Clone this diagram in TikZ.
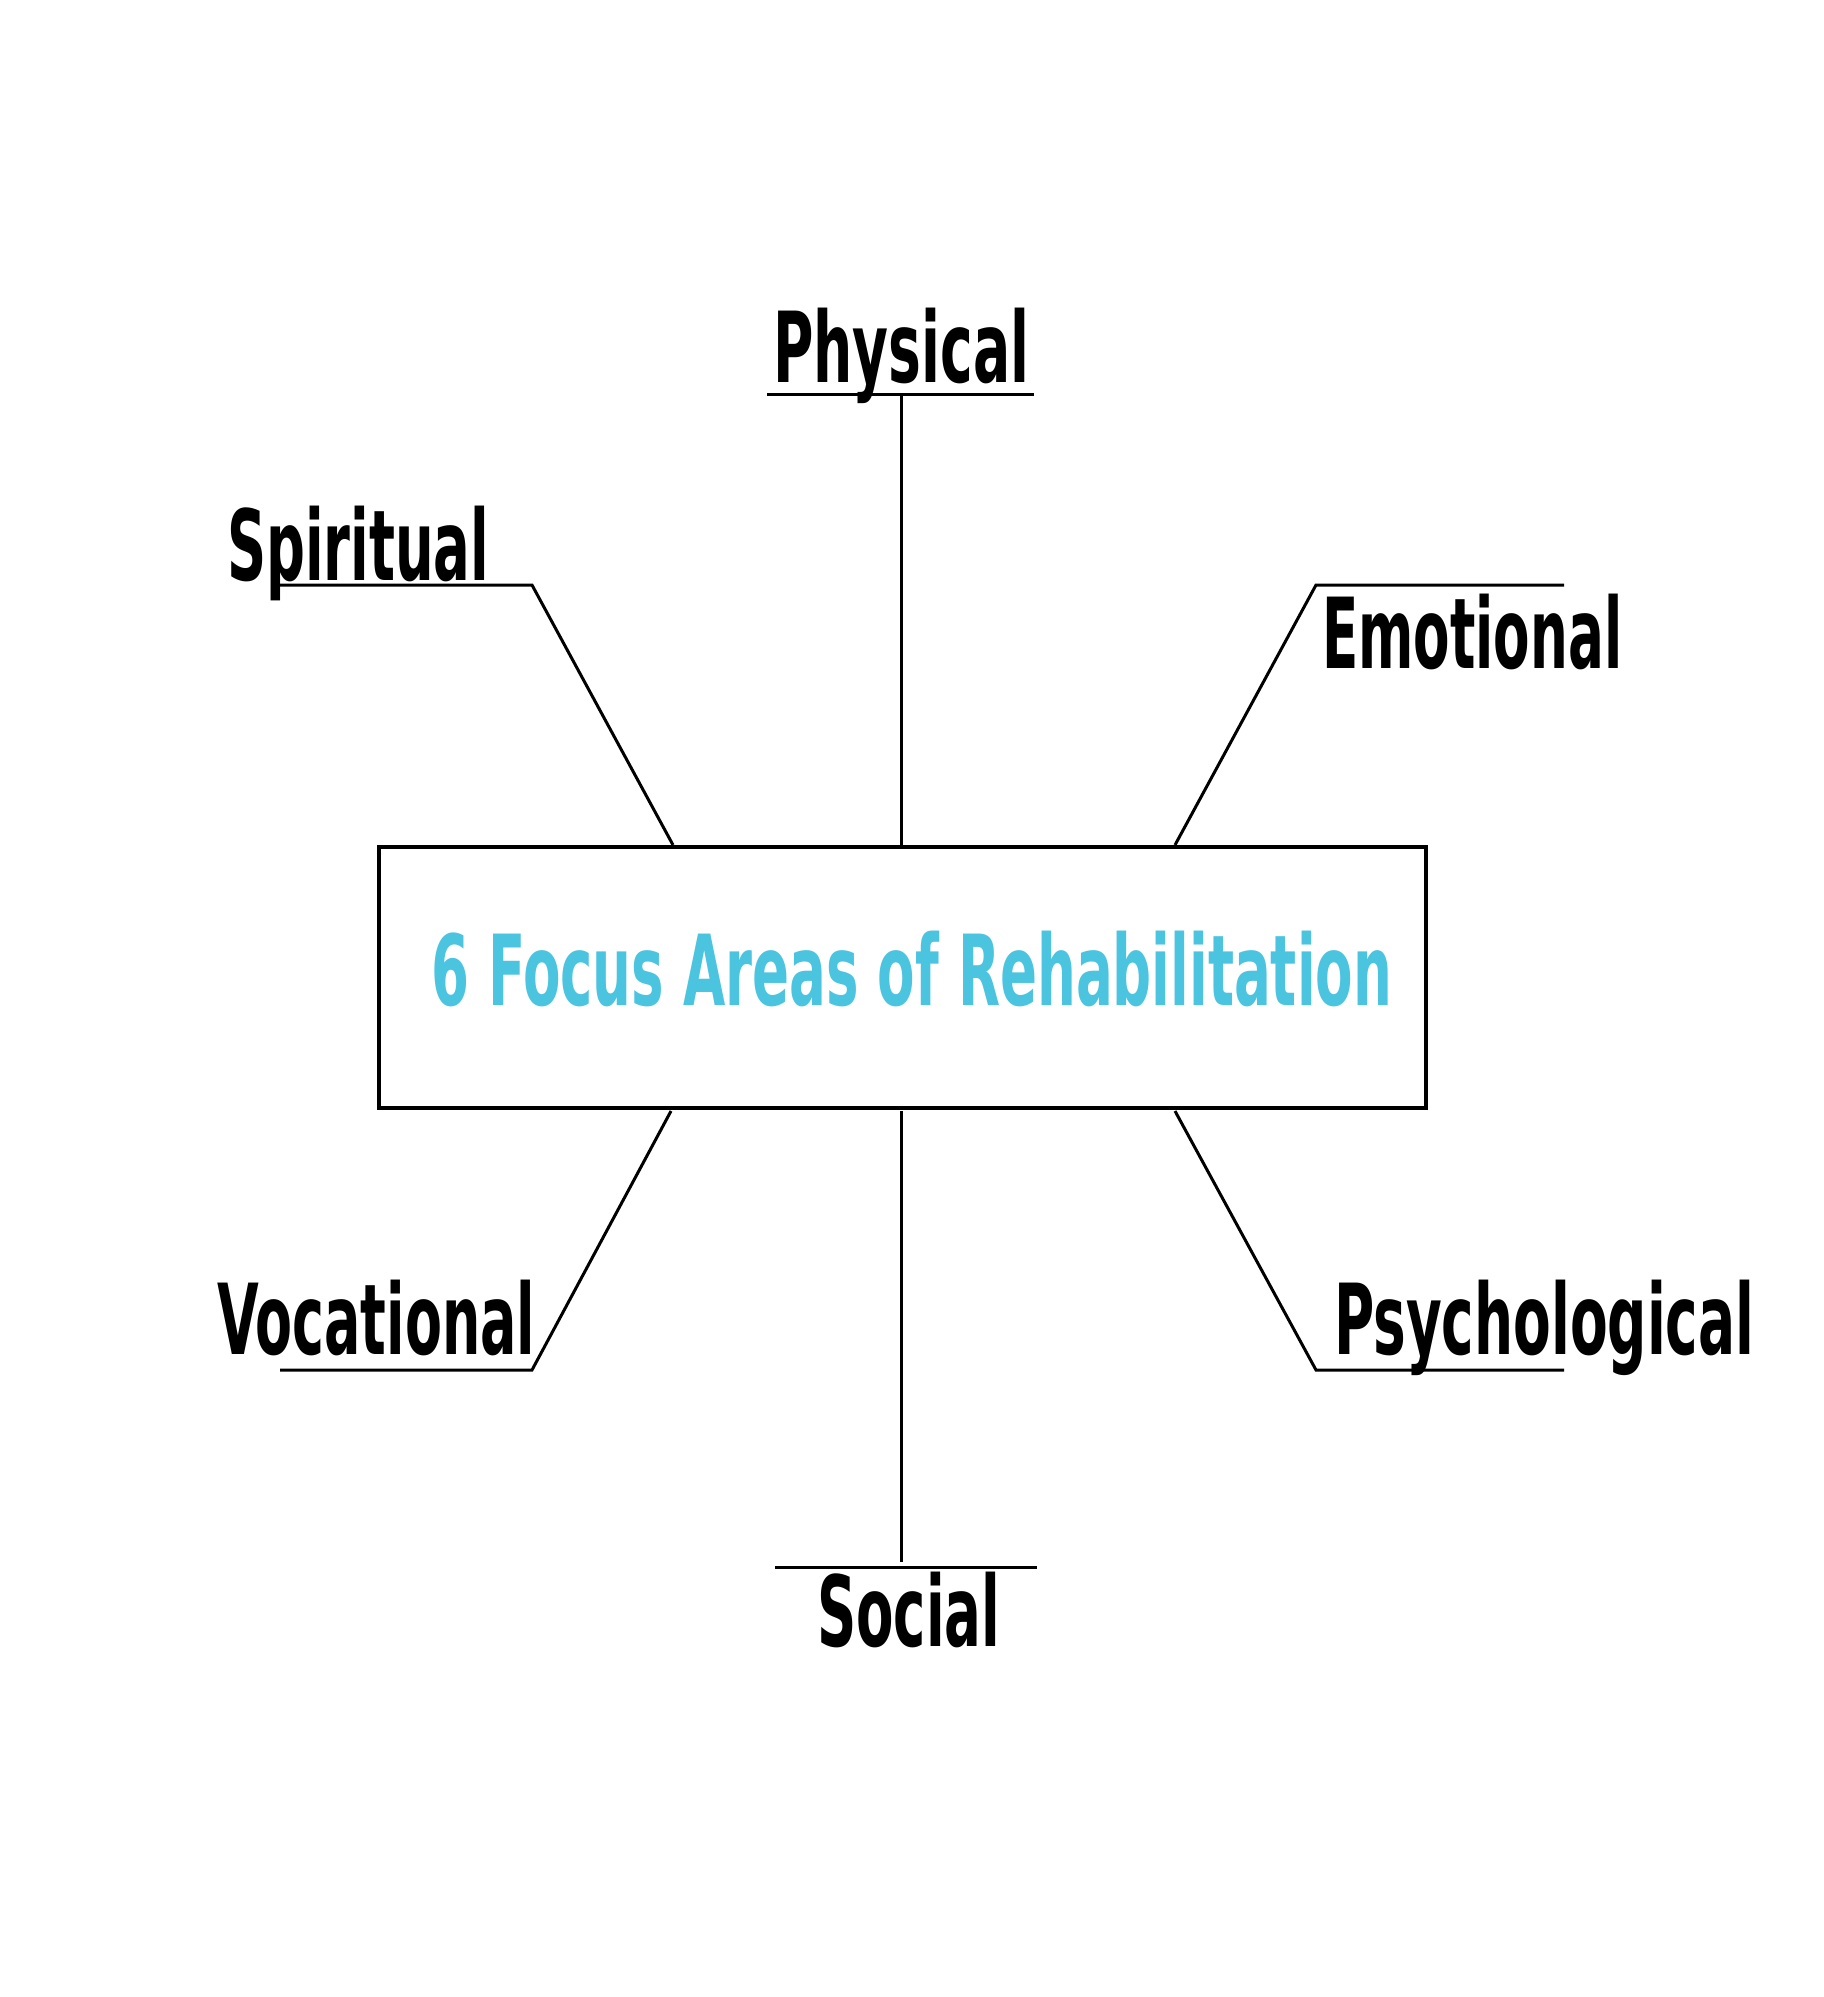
\documentclass[tikz,border=0pt]{standalone}
\usepackage{fontspec}
\setmainfont{DejaVu Sans Condensed}
\usepackage{graphicx}
\definecolor{titlecyan}{RGB}{75,196,224}
\newcommand{\fitw}[2]{\resizebox{#1pt}{\height}{#2}}
\begin{document}
\begin{tikzpicture}[x=1pt,y=-1pt,
  conn/.style={line width=3pt, draw=black},
  lbl/.style={inner sep=0pt, anchor=base west, font=\bfseries\fontsize{98}{110}\selectfont},
  centrebox/.style={draw=black, line width=3.5pt, fill=white, minimum width=1047pt, minimum height=261pt, inner sep=0pt, anchor=north west}]
\useasboundingbox[fill=white] (0,0) rectangle (1823,1997);

\node[centrebox] (box) at (377,845) {};
\node[lbl, text=titlecyan] (title) at (431,1005) {\fitw{961}{6 Focus Areas of Rehabilitation}};

\node[lbl] (physical) at (773,382) {\fitw{256}{Physical}};
\node[lbl] (spiritual) at (227,580) {\fitw{262}{Spiritual}};
\node[lbl] (emotional) at (1322,668) {\fitw{300}{Emotional}};
\node[lbl] (vocational) at (217,1354) {\fitw{318}{Vocational}};
\node[lbl] (psychological) at (1334,1354) {\fitw{420}{Psychological}};
\node[lbl] (social) at (817,1646) {\fitw{183}{Social}};

% connector points
\coordinate (phA) at (901,845);
\coordinate (phB) at (901,394);
\coordinate (phL) at (767,394);
\coordinate (phR) at (1034,394);
\coordinate (spA) at (673,845);
\coordinate (spB) at (532,585);
\coordinate (spC) at (280,585);
\coordinate (emA) at (1175,845);
\coordinate (emB) at (1316,585);
\coordinate (emC) at (1564,585);
\coordinate (voA) at (671,1111);
\coordinate (voB) at (532,1370);
\coordinate (voC) at (280,1370);
\coordinate (psA) at (1175,1111);
\coordinate (psB) at (1316,1370);
\coordinate (psC) at (1564,1370);
\coordinate (soA) at (901,1111);
\coordinate (soB) at (901,1562);
\coordinate (soL) at (775,1567);
\coordinate (soR) at (1037,1567);

\draw[conn] (phA) -- (phB);
\draw[conn] (phL) -- (phR);
\draw[conn] (spA) -- (spB) -- (spC);
\draw[conn] (emA) -- (emB) -- (emC);
\draw[conn] (voA) -- (voB) -- (voC);
\draw[conn] (psA) -- (psB) -- (psC);
\draw[conn] (soA) -- (soB);
\draw[conn] (soL) -- (soR);
\end{tikzpicture}
\end{document}
